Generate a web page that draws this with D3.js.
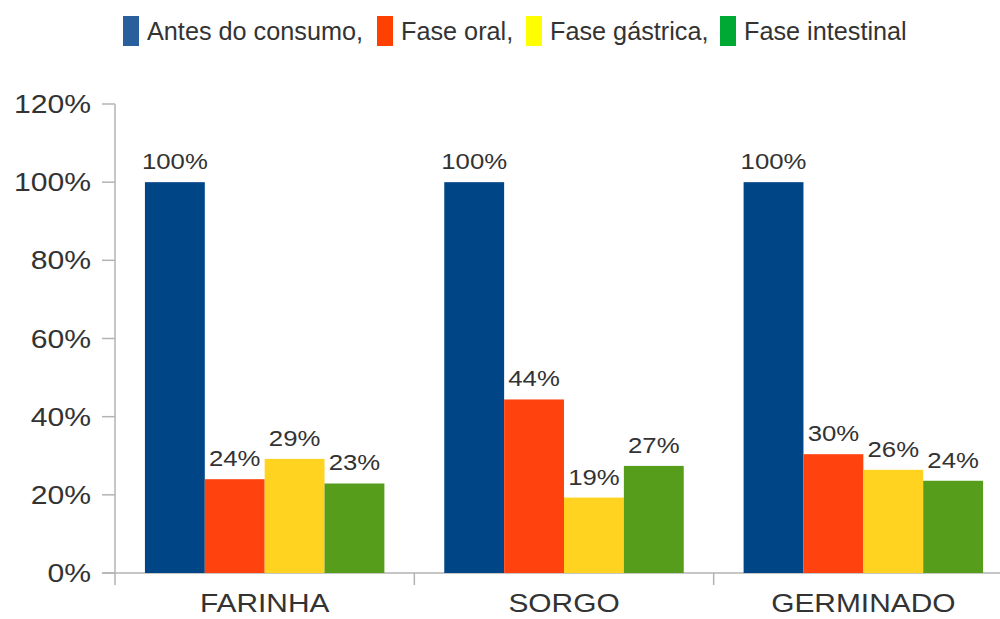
<!DOCTYPE html>
<html><head><meta charset="utf-8">
<script src="https://cdn.jsdelivr.net/npm/d3@7"></script>
<style>body{margin:0;background:#fff}svg{display:block}</style>
</head><body>
<svg id="chart" width="1000" height="619"></svg>
<script>
const categories = ["FARINHA", "SORGO", "GERMINADO"];
const seriesNames = ["Antes do consumo,", "Fase oral,", "Fase gástrica,", "Fase intestinal"];
const antes = [100, 100, 100];
const oral = [24, 44.4, 30.4];
const gastrica = [29.2, 19.3, 26.4];
const intestinal = [22.9, 27.4, 23.6];
const yTicks = [0, 20, 40, 60, 80, 100, 120];
const barColors = ["#004586", "#ff420e", "#ffd320", "#579d1c"];
const legendColors = ["#2a5f9e", "#ff4000", "#ffff00", "#00a933"];

const series = [antes, oral, gastrica, intestinal];
const svg = d3.select("#chart");
const font = "'Liberation Sans', Arial, sans-serif";
const textColor = "#333333";
const axisColor = "#b3b3b3";

const x0 = d3.scaleBand().domain(categories).range([115, 1013]).paddingInner(0.2).paddingOuter(0.1);
const x1 = d3.scaleBand().domain(d3.range(series.length)).range([0, x0.bandwidth()]);
const y = d3.scaleLinear().domain([0, 120]).range([573, 104]);

function stext(g, x, yy, str, size, sx, anchor) {
  return g.append("text")
    .attr("transform", `translate(${x},${yy}) scale(${sx},1)`)
    .attr("text-anchor", anchor)
    .attr("font-family", font).attr("font-size", size)
    .attr("fill", textColor).text(str);
}

// axes
const ax = svg.append("g");
ax.append("line").attr("x1", 102).attr("x2", 1000).attr("y1", y(0)).attr("y2", y(0)).attr("stroke", axisColor).attr("stroke-width", 1.5);
ax.append("line").attr("x1", 115).attr("x2", 115).attr("y1", y(120)).attr("y2", y(0) + 12).attr("stroke", axisColor).attr("stroke-width", 1.5);
yTicks.forEach(t => {
  ax.append("line").attr("x1", 102).attr("x2", 115).attr("y1", y(t)).attr("y2", y(t)).attr("stroke", axisColor).attr("stroke-width", 1.5);
  stext(ax, 91, y(t) + 9, t + "%", 26, 1.16, "end");
});
categories.forEach((c, i) => {
  const bx = x0.range()[0] + x0.step() * i;
  if (i > 0) ax.append("line").attr("x1", bx).attr("x2", bx).attr("y1", y(0)).attr("y2", y(0) + 12).attr("stroke", axisColor).attr("stroke-width", 1.5);
  stext(ax, x0(c) + x0.bandwidth() / 2, 612, c, 26, 1.15, "middle");
});

// bars
const groups = svg.append("g").selectAll("g").data(categories).join("g")
  .attr("transform", d => `translate(${x0(d)},0)`);
groups.each(function (c, ci) {
  const g = d3.select(this);
  series.forEach((s, si) => {
    const v = s[ci];
    g.append("rect").attr("x", x1(si)).attr("width", x1.bandwidth())
      .attr("y", y(v)).attr("height", y(0) - y(v)).attr("fill", barColors[si]);
    stext(g, x1(si) + x1.bandwidth() / 2, y(v) - 13, Math.round(v) + "%", 23, 1.12, "middle");
  });
});

// legend
const legendX = [123, 377, 526, 720];
const lg = svg.append("g");
seriesNames.forEach((n, i) => {
  lg.append("rect").attr("x", legendX[i]).attr("y", 16).attr("width", 16).attr("height", 30).attr("fill", legendColors[i]);
  stext(lg, legendX[i] + 24, 40, n, 25, 1.01, "start");
});
</script>
</body></html>
